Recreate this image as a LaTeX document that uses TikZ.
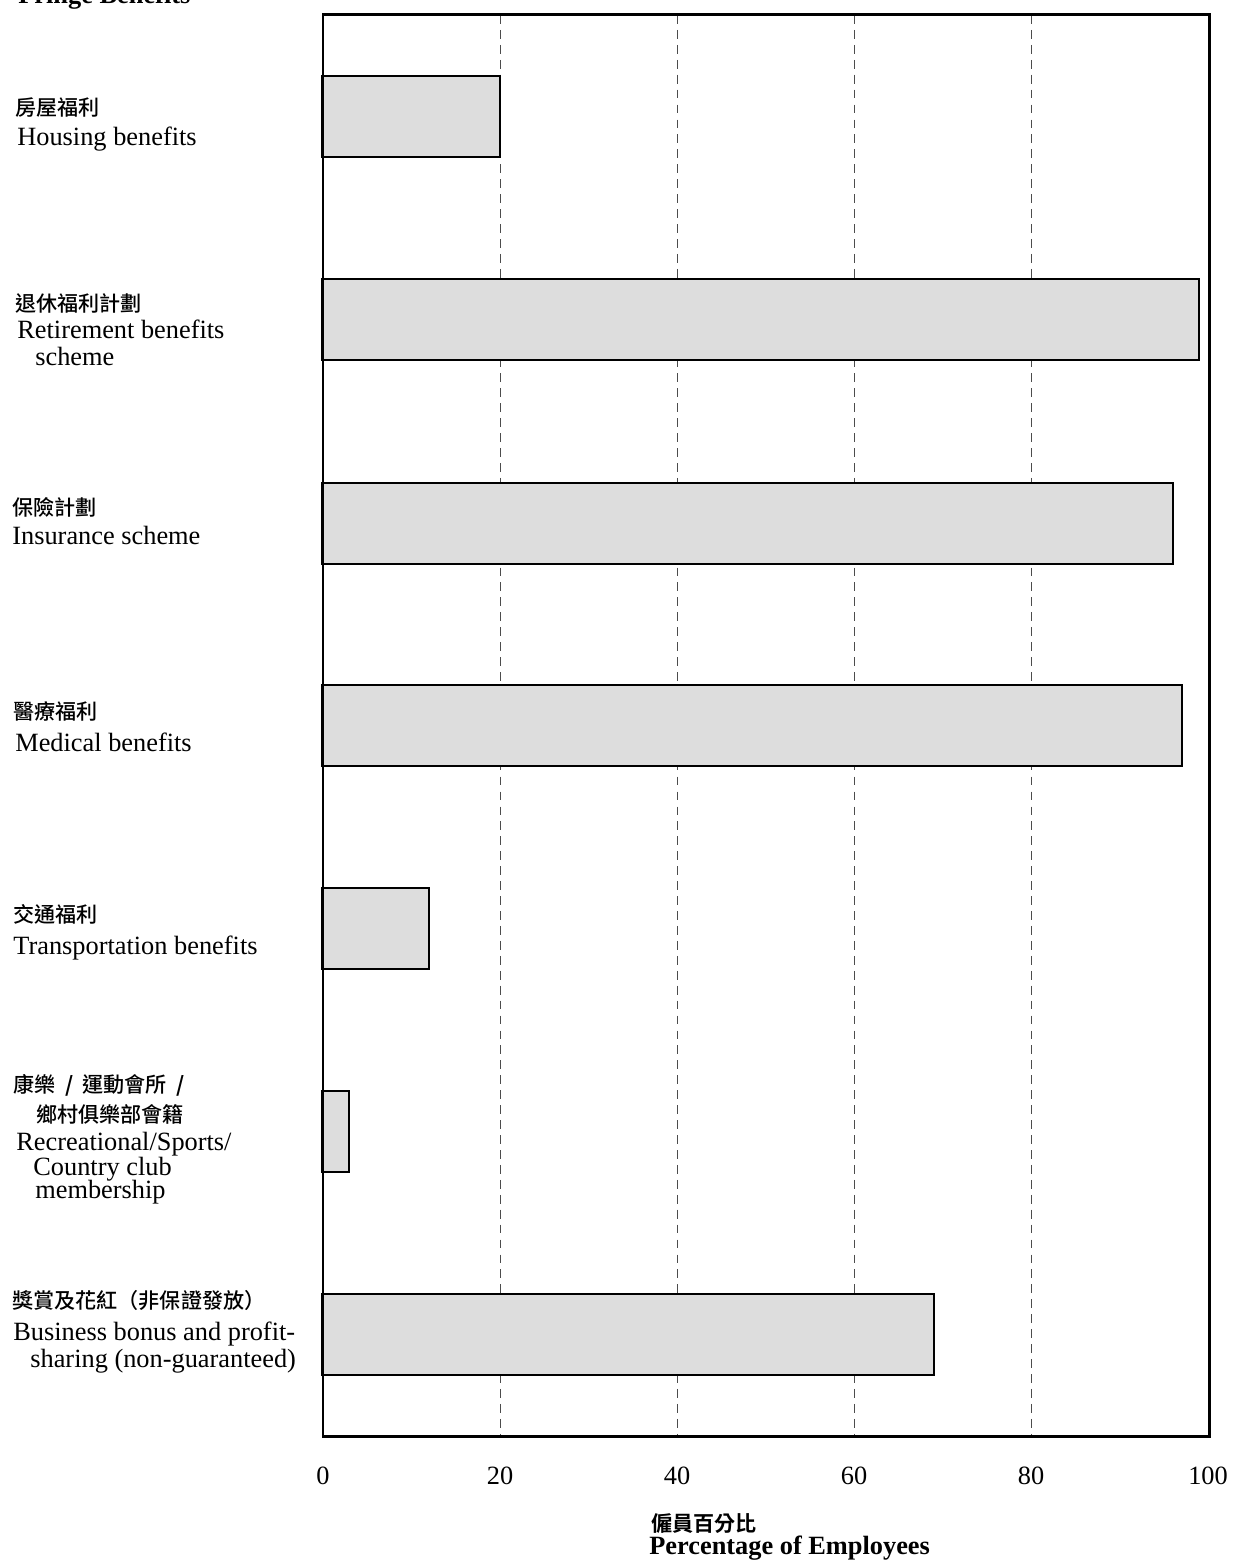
\documentclass[tikz,border=0pt]{standalone}
\usepackage{fontspec}
\setmainfont{Liberation Serif}
\newfontfamily\cjk{Noto Sans CJK TC}[UprightFont=* Medium,BoldFont=* Bold]
\definecolor{barfill}{HTML}{DDDDDD}
\newcommand\zhslash{\hspace{0.45em}{\bfseries /}\hspace{0.45em}}
\tikzset{
  bar/.style={draw,line width=1.1pt,fill=barfill},
  gridline/.style={draw=black!70,line width=0.5pt,dash pattern=on 5pt off 3.5pt},
  zh/.style={anchor=west,inner sep=0pt,font=\cjk\fontsize{12}{14}\selectfont},
  en/.style={anchor=base west,inner sep=0pt,font=\fontsize{15}{18}\selectfont},
  tick/.style={anchor=base,inner sep=0pt,font=\fontsize{15}{18}\selectfont},
}
\begin{document}
\begin{tikzpicture}[x=0.02cm,y=-0.02cm]
\useasboundingbox (0,0) rectangle (1232,1567);
\node[en,font=\bfseries\fontsize{15}{18}\selectfont] (T) at (18,4) {Fringe Benefits};
% grid
\foreach \v in {20,40,60,80}
  \draw[gridline] ({323+8.85*\v},15) -- ({323+8.85*\v},1436);
% bars
\foreach \y/\v in {76/20,279/99,483/96.05,685/97.06,888/11.98,1091/2.94,1294/69.04}
  \draw[bar] (322,\y) rectangle ({323+8.85*\v},\y+81);
\draw[line width=1.7pt] (323,15) rectangle (1209,1436);
% categories
\node[zh] (Z1) at (15,108) {房屋福利};
\node[en] (E1) at (17,146) {Housing benefits};
\node[zh] (Z2) at (15,303) {退休福利計劃};
\node[en] (E2) at (17,339) {Retirement benefits};
\node[en] (E2b) at (35,366) {scheme};
\node[zh] (Z3) at (12,507) {保險計劃};
\node[en] (E3) at (12,544) {Insurance scheme};
\node[zh] (Z4) at (13,711) {醫療福利};
\node[en] (E4) at (15,751) {Medical benefits};
\node[zh] (Z5) at (13,914) {交通福利};
\node[en] (E5) at (13,954) {Transportation benefits};
\node[zh] (Z6) at (13,1085) {康樂\zhslash 運動會所\zhslash};
\node[zh] (Z6b) at (36,1114) {鄉村俱樂部會籍};
\node[en] (E6) at (16,1150) {Recreational/Sports/};
\node[en] (E6b) at (33,1175) {Country club};
\node[en] (E6c) at (35,1198) {membership};
\node[zh] (Z7) at (12,1300) {獎賞及花紅（非保證發放）};
\node[en] (E7) at (13,1340) {Business bonus and profit-};
\node[en] (E7b) at (30,1367) {sharing (non-guaranteed)};
% axis
\foreach \v in {0,20,40,60,80,100}
  \node[tick] (X\v) at ({323+8.85*\v},1484) {\v};
\node[zh,font=\cjk\bfseries\fontsize{12}{14}\selectfont] (AZ) at (651,1524) {僱員百分比};
\node[en,font=\bfseries\fontsize{15}{18}\selectfont] (AE) at (649,1554) {Percentage of Employees};
\end{tikzpicture}
\end{document}
